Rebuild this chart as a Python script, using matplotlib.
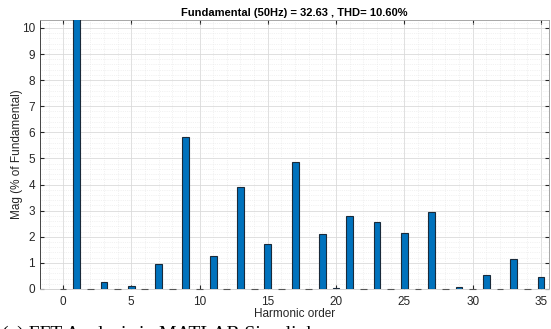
import numpy as np
import matplotlib
matplotlib.use("Agg")
import matplotlib.pyplot as plt
from matplotlib.ticker import MultipleLocator

# harmonic spectrum, % of fundamental (fundamental bar runs off the top)
harmonics = list(range(0, 36))
mags = [0.0, 100.0, 0.0, 0.28, 0.0, 0.12, 0.0, 0.97, 0.0, 5.83,
        0.0, 1.28, 0.0, 3.90, 0.0, 1.72, 0.0, 4.85, 0.0, 2.10,
        0.05, 2.78, 0.0, 2.58, 0.0, 2.15, 0.0, 2.93, 0.0, 0.07,
        0.0, 0.55, 0.0, 1.15, 0.0, 0.45]
title_txt = "Fundamental (50Hz) = 32.63 , THD= 10.60%"

plt.rcParams['font.family'] = ['Liberation Sans', 'DejaVu Sans']

fig = plt.figure(figsize=(5.51, 3.29), dpi=100)
ax = fig.add_axes([0.0726, 0.1216, 0.924, 0.8174])

bars = ax.bar(harmonics, mags, width=0.5, color='#0072BD', edgecolor='#1a2a3a',
              linewidth=0.8, zorder=3)
for b in bars:
    if b.get_height() == 0:
        b.set_edgecolor('#555555')
        b.set_clip_on(False)

ax.set_xlim(-1.68, 35.6)
ax.set_ylim(0, 10.3)
ax.xaxis.set_major_locator(MultipleLocator(5))
ax.xaxis.set_minor_locator(MultipleLocator(1))
ax.yaxis.set_major_locator(MultipleLocator(1))
ax.yaxis.set_minor_locator(MultipleLocator(0.2))

ax.grid(which='major', color='#dadada', linewidth=0.6, zorder=0)
ax.grid(which='minor', color='#e6e6e6', linewidth=0.5, linestyle=':', zorder=0)

ax.tick_params(which='both', direction='in', top=True, right=True,
               labelsize=8.5, colors='#262626')
ax.tick_params(which='minor', length=0)
ax.tick_params(which='major', length=3)
ax.tick_params(axis='x', pad=5)
for s in ax.spines.values():
    s.set_linewidth(0.6)
    s.set_color('#262626')
ax.spines['top'].set_color('#999999')
ax.spines['right'].set_color('#999999')
ax.spines['bottom'].set_color('#cccccc')

ax.set_title(title_txt, fontsize=8, fontweight='bold', pad=3)
ax.set_xlabel('Harmonic order', fontsize=8.5, color='#262626', labelpad=0)
ax.set_ylabel('Mag (% of Fundamental)', fontsize=8.5, color='#262626', labelpad=-1)

# caption of the source figure, cut off by the crop as in the reference
fig.text(0.004, -0.043, '(a) FFT Analysis in MATLAB Simulink',
         family='Liberation Serif', fontsize=14, va='bottom', ha='left')

fig.savefig('out.png', dpi=100)
